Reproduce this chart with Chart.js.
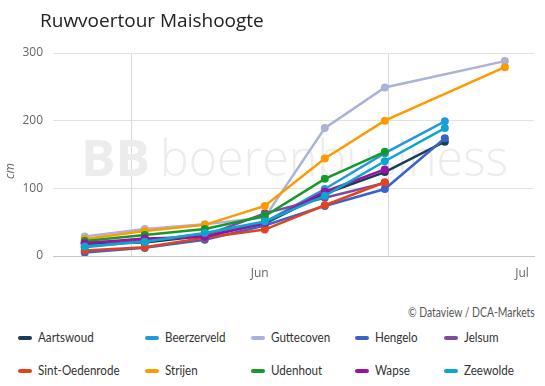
<!DOCTYPE html>
<html><head><meta charset="utf-8">
<script src="https://cdn.jsdelivr.net/npm/chart.js@4.4.1/dist/chart.umd.min.js"></script>
<style>
html,body{margin:0;padding:0;background:#fff}
body{width:545px;height:386px;overflow:hidden;position:relative;font-family:"Open Sans",sans-serif}
#title{position:absolute;left:40px;top:7px;font-size:19px;color:#222;white-space:nowrap}
#wrap{position:absolute;left:0;top:0;width:545px;height:290px}
#credit{position:absolute;right:10px;top:305px;font-size:12.5px;color:#555;white-space:nowrap;font-family:Lato,sans-serif;transform:scaleX(0.83);transform-origin:right center}
#ytitle{position:absolute;left:9px;top:171px;transform:translate(-50%,-50%) rotate(-90deg);font-size:12px;font-style:italic;color:#666;white-space:nowrap}
.leg{position:absolute;font-size:13.5px;color:#333;white-space:nowrap;line-height:16px;font-family:Lato,sans-serif}
.leg i{display:inline-block;width:14px;height:4px;border-radius:2px;vertical-align:middle;margin-right:6px;position:relative;top:-1px}
.leg span{display:inline-block;transform:scaleX(0.86);transform-origin:left center}
</style></head>
<body>
<div id="wrap"><canvas id="c"></canvas></div>
<div id="title">Ruwvoertour Maishoogte</div>
<div id="ytitle">cm</div>
<div id="credit">© Dataview / DCA-Markets</div>
<div id="legend"></div>
<script>
// days since first measurement (weekly)
const dayOffsets = [0, 7, 14, 21, 28, 35, 42, 49];
const seriesNames = ['Aartswoud','Beerzerveld','Guttecoven','Hengelo','Jelsum','Sint-Oedenrode','Strijen','Udenhout','Wapse','Zeewolde'];
const aartswoud     = [18, 20, 30, 48, 92, 124, 169, null];
const beerzerveld   = [13, 22, 33, 50, 99, 152, 199, null];
const guttecoven    = [29, 40, 47, 57, 189, 249, null, 288];
const hengelo       = [5, 12, 24, 45, 74, 99, 174, null];
const jelsum        = [20, 23, 30, 63, 86, 108, null, null];
const sintOedenrode = [8, 13, 27, 39, 75, 109, null, null];
const strijen       = [25, 37, 46, 74, 144, 200, null, 279];
const udenhout      = [22, 31, 40, 59, 114, 154, null, null];
const wapse         = [19, 26, 28, 49, 95, 128, null, null];
const zeewolde      = [14, 21, 34, 51, 89, 140, 189, null];
const seriesValues = [aartswoud, beerzerveld, guttecoven, hengelo, jelsum, sintOedenrode, strijen, udenhout, wapse, zeewolde];
const seriesColors = ['#1c3d5a','#2498dc','#aab2d5','#3a62c9','#7b4e9c','#e2431e','#ff9900','#15992b','#9c129f','#0ba5d2'];
// month boundaries (grid) and month label positions, in days since first measurement
const monthGridDays = [5.4, 35.4];
const monthLabelDays = [20.4, 51];
const monthLabels = ['Jun', 'Jul'];
const yTicks = [0, 100, 200, 300];

const datasets = seriesNames.map((n, i) => ({
  label: n,
  data: dayOffsets.map((d, j) => ({x: d, y: seriesValues[i][j]})).filter(p => p.y !== null),
  borderColor: seriesColors[i],
  backgroundColor: seriesColors[i],
  borderWidth: 2.5,
  pointRadius: 4,
  pointBorderWidth: 0,
  pointHoverRadius: 4,
  tension: 0,
  order: seriesNames.length - i
}));

const watermark = {
  id: 'watermark',
  beforeDatasetsDraw(chart) {
    const ctx = chart.ctx;
    ctx.save();
    ctx.fillStyle = '#ececec';
    ctx.textBaseline = 'alphabetic';
    ctx.font = 'bold 50px "Open Sans"';
    let w = ctx.measureText('BB').width;
    ctx.save(); ctx.translate(81, 176); ctx.scale(69 / w, 1); ctx.fillText('BB', 0, 0); ctx.restore();
    ctx.font = '300 50px "Open Sans"';
    w = ctx.measureText('boerenbusiness').width;
    ctx.save(); ctx.translate(160, 176); ctx.scale(348 / w, 1); ctx.fillText('boerenbusiness', 0, 0); ctx.restore();
    ctx.restore();
  }
};

new Chart(document.getElementById('c'), {
  type: 'line',
  data: { datasets },
  plugins: [watermark],
  options: {
    responsive: true,
    maintainAspectRatio: false,
    animation: false,
    layout: { padding: { top: 53, right: 11, left: 0, bottom: 0 } },
    plugins: { legend: { display: false }, tooltip: { enabled: false } },
    scales: {
      x: {
        type: 'linear', min: -3.7, max: 52.4,
        afterBuildTicks: s => {
          s.ticks = monthGridDays.concat(monthLabelDays).sort((a, b) => a - b).map(v => ({value: v}));
        },
        afterFit: s => { s.height = 34; },
        ticks: {
          autoSkip: false, maxRotation: 0, color: '#666', padding: 10,
          font: { family: '"Open Sans"', size: 12 },
          callback: v => { const k = monthLabelDays.indexOf(v); return k >= 0 ? monthLabels[k] : ''; }
        },
        grid: {
          drawTicks: false,
          color: c => (c.tick && monthGridDays.includes(c.tick.value)) ? '#d9d9d9' : 'rgba(0,0,0,0)'
        },
        border: { color: '#c6c6c6', width: 1 }
      },
      y: {
        min: 0, max: 300,
        afterBuildTicks: s => { s.ticks = yTicks.map(v => ({value: v})); },
        afterFit: s => { s.width = 53; },
        ticks: { color: '#666', padding: 10, font: { family: '"Open Sans"', size: 12 } },
        grid: { color: '#e2e2e2', drawTicks: false },
        border: { display: false }
      }
    }
  }
});

// legend
const legCols = [18, 145, 251, 355, 444];
const legRows = [329, 362];
const legend = document.getElementById('legend');
seriesNames.forEach((n, i) => {
  const d = document.createElement('div');
  d.className = 'leg';
  d.style.left = legCols[i % 5] + 'px';
  d.style.top = legRows[Math.floor(i / 5)] + 'px';
  const sw = document.createElement('i');
  sw.style.background = seriesColors[i];
  d.appendChild(sw);
  const t = document.createElement('span');
  t.textContent = n;
  d.appendChild(t);
  legend.appendChild(d);
});
</script>
</body></html>
